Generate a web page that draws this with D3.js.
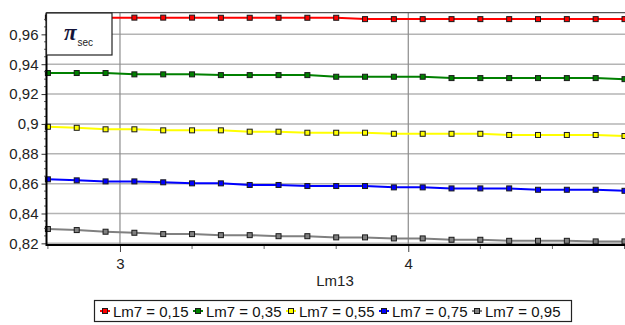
<!DOCTYPE html>
<html><head><meta charset="utf-8">
<script src="https://cdn.jsdelivr.net/npm/d3@7"></script>
<style>html,body{margin:0;padding:0;background:#fff;overflow:hidden}svg{display:block}</style>
</head><body><svg id="c" width="625" height="325"></svg>
<script>
const xValues = [2.75,2.85,2.95,3.05,3.15,3.25,3.35,3.45,3.55,3.65,3.75,3.85,3.95,4.05,4.15,4.25,4.35,4.45,4.55,4.65,4.75];
const seriesNames = ["Lm7 = 0,15","Lm7 = 0,35","Lm7 = 0,55","Lm7 = 0,75","Lm7 = 0,95"];
const s015 = [0.9712,0.9712,0.9712,0.9712,0.9712,0.9712,0.9711,0.9711,0.9711,0.9711,0.9711,0.9702,0.9702,0.9702,0.9702,0.9702,0.9702,0.9702,0.9702,0.9702,0.9702];
const s035 = [0.9341,0.9341,0.9341,0.9332,0.9332,0.9332,0.9327,0.9327,0.9327,0.9327,0.9316,0.9316,0.9316,0.9316,0.9307,0.9307,0.9307,0.9307,0.9307,0.9307,0.9300];
const s055 = [0.8981,0.8974,0.8964,0.8964,0.8957,0.8957,0.8957,0.8948,0.8948,0.8941,0.8941,0.8941,0.8934,0.8934,0.8934,0.8934,0.8926,0.8926,0.8926,0.8926,0.8919];
const s075 = [0.8629,0.8622,0.8615,0.8615,0.8609,0.8602,0.8602,0.8591,0.8591,0.8584,0.8584,0.8584,0.8575,0.8575,0.8568,0.8568,0.8568,0.8559,0.8559,0.8559,0.8552];
const s095 = [0.8296,0.8289,0.8278,0.8271,0.8262,0.8262,0.8255,0.8255,0.8248,0.8248,0.8240,0.8240,0.8233,0.8233,0.8224,0.8224,0.8217,0.8217,0.8217,0.8213,0.8213];
const colors = ["#ff0000","#008000","#ffff00","#0000ff","#808080"];
const yTicks = [0.82,0.84,0.86,0.88,0.9,0.92,0.94,0.96];
const yMinorTicks = [0.825,0.83,0.835,0.845,0.85,0.855,0.865,0.87,0.875,0.885,0.89,0.895,0.905,0.91,0.915,0.925,0.93,0.935,0.945,0.95,0.955,0.965,0.97];
const xMajorTicks = [3,4];
const xMinorTicks = [2.75,3.25,3.5,3.75,4.25,4.5,4.75];
const xTitle = "Lm13";

const series = [s015,s035,s055,s075,s095];
const loc = d3.formatLocale({decimal:",",thousands:".",grouping:[3],currency:["",""]});
const fmt = loc.format(".2~f");

const svg = d3.select("#c");
const font = "'Liberation Sans', Arial, sans-serif";
const x = d3.scaleLinear().domain([2.75,4.75]).range([47.9,624.5]);
const y = d3.scaleLinear().domain([0.8189,0.9745]).range([245,12.7]);
const L = 46.5, R = 625, T = y.range()[1], B = y.range()[0];

// grid
svg.append("g").selectAll("line").data(yTicks).join("line")
  .attr("x1",L).attr("x2",R).attr("y1",d=>y(d)).attr("y2",d=>y(d))
  .attr("stroke","#b4b4b4").attr("stroke-width",1.5);
svg.append("g").selectAll("line").data(xMajorTicks).join("line")
  .attr("x1",d=>x(d)).attr("x2",d=>x(d)).attr("y1",T).attr("y2",B)
  .attr("stroke","#8c8c8c").attr("stroke-width",1.2);
// top border
svg.append("line").attr("x1",L).attr("x2",R).attr("y1",T).attr("y2",T).attr("stroke","#555").attr("stroke-width",1.3);

// lines
const line = d3.line().x((d,i)=>x(xValues[i])).y(d=>y(d));
const g = svg.append("g");
series.forEach((s,k)=>{
  g.append("path").datum(s).attr("d",line).attr("fill","none")
   .attr("stroke",colors[k]).attr("stroke-width",2);
  g.append("g").selectAll("rect").data(s).join("rect")
   .attr("x",(d,i)=>x(xValues[i])-2.5).attr("y",d=>y(d)-2.5)
   .attr("width",5).attr("height",5)
   .attr("fill",colors[k]).attr("stroke","#1a1a1a").attr("stroke-width",1);
});

// axes
const yAxis = svg.append("g").attr("transform",`translate(${L},0)`)
  .call(d3.axisLeft(y).tickValues(yTicks).tickFormat(fmt).tickSize(5).tickPadding(3));
yAxis.select(".domain").remove();
yAxis.selectAll("text").attr("font-family",font).attr("font-size",15).attr("fill","#222");
yAxis.selectAll("line").attr("stroke","#333");
svg.append("g").selectAll("line").data(yMinorTicks).join("line")
  .attr("x1",L-2.5).attr("x2",L).attr("y1",d=>y(d)).attr("y2",d=>y(d)).attr("stroke","#666");

const xAxis = svg.append("g").attr("transform",`translate(0,${B})`)
  .call(d3.axisBottom(x).tickValues(xMajorTicks).tickFormat(d=>String(d)).tickSize(7).tickPadding(6));
xAxis.select(".domain").remove();
xAxis.selectAll("text").attr("font-family",font).attr("font-size",15).attr("fill","#222");
xAxis.selectAll("line").attr("stroke","#444");
svg.append("g").attr("transform",`translate(0,${B})`).selectAll("line").data(xMinorTicks).join("line")
  .attr("x1",d=>x(d)).attr("x2",d=>x(d)).attr("y1",0).attr("y2",4).attr("stroke","#666");

svg.append("line").attr("x1",L).attr("x2",R).attr("y1",B).attr("y2",B).attr("stroke","#000").attr("stroke-width",2.2);
svg.append("line").attr("x1",L).attr("x2",L).attr("y1",T).attr("y2",B+1).attr("stroke","#000").attr("stroke-width",2);

svg.append("text").attr("x",335).attr("y",286).attr("text-anchor","middle")
  .attr("font-family",font).attr("font-size",15).attr("fill","#222").text(xTitle);

// inset label box
svg.append("rect").attr("x",46.5).attr("y",13).attr("width",65.5).attr("height",42)
  .attr("fill","#fff").attr("stroke","#222").attr("stroke-width",1.2);
const pt = svg.append("text").attr("x",64).attr("y",40).attr("font-family","'Liberation Serif','Times New Roman',serif").attr("fill","#14143a");
pt.append("tspan").attr("font-size",23).attr("font-style","italic").attr("font-weight","bold").text("π");
pt.append("tspan").attr("font-size",10).attr("font-family",font).attr("dy",6).attr("dx",1).attr("fill","#222").text("sec");

// legend
const lg = svg.append("g");
lg.append("rect").attr("x",94.5).attr("y",300.5).attr("width",477).attr("height",21)
  .attr("fill","#fff").attr("stroke","#222").attr("stroke-width",1.2);
seriesNames.forEach((n,k)=>{
  const cx = 105 + k*93;
  lg.append("line").attr("x1",cx-5).attr("x2",cx+5).attr("y1",311).attr("y2",311).attr("stroke",colors[k]).attr("stroke-width",2);
  lg.append("rect").attr("x",cx-2.5).attr("y",308.5).attr("width",5).attr("height",5).attr("fill",colors[k]).attr("stroke","#1a1a1a");
  lg.append("text").attr("x",cx+8).attr("y",316.5).attr("font-family",font).attr("font-size",15).attr("fill","#111").text(n);
});
</script></body></html>
